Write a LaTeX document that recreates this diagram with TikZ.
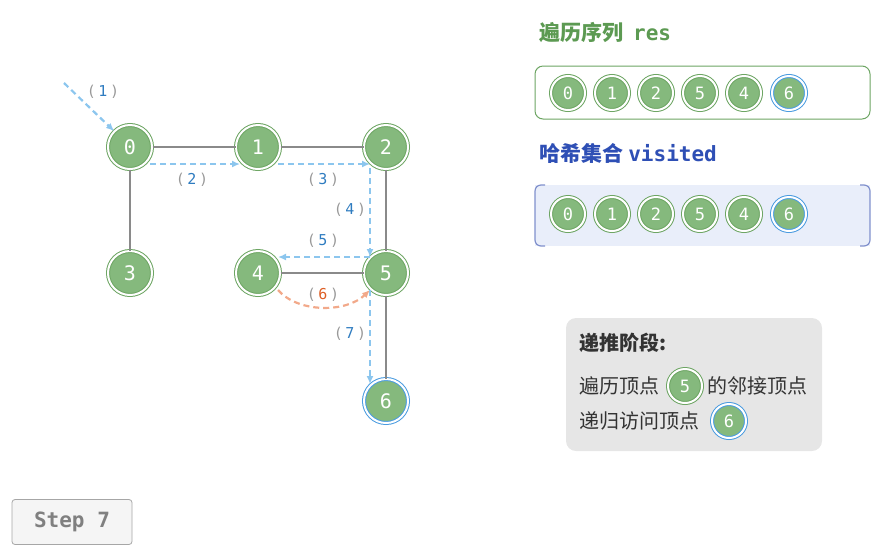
\documentclass[tikz,border=0pt]{standalone}
\usepackage{fontspec}
\setmainfont{Noto Sans CJK SC}
\setmonofont{DejaVu Sans Mono}
\usetikzlibrary{arrows.meta,calc}

\definecolor{vgreen}{HTML}{85B97D}
\definecolor{vring}{HTML}{6DA563}
\definecolor{vblue}{HTML}{4A9BE0}
\definecolor{dashblue}{HTML}{8CC6EE}
\definecolor{dashorange}{HTML}{F2A98A}
\definecolor{numblue}{HTML}{2F7CC0}
\definecolor{numorange}{HTML}{DD5F26}
\definecolor{titlegreen}{HTML}{5C9A52}
\definecolor{titleblue}{HTML}{2E4FB5}
\definecolor{linkgrey}{HTML}{8A8A8A}
\definecolor{setfill}{HTML}{E9EEFA}
\definecolor{setdraw}{HTML}{8090CC}
\definecolor{legendfill}{HTML}{E6E6E6}

\tikzset{
  vertex/.style={circle, inner sep=0pt, minimum size=44pt, fill=vgreen, draw=vring,
    double=white, double distance=2pt, line width=1pt, text=white,
    font=\ttfamily\fontsize{20}{20}\selectfont},
  current/.style={draw=vblue},
  mini/.style={minimum size=34pt, font=\ttfamily\fontsize{17}{17}\selectfont},
  link/.style={linkgrey, line width=2.6pt},
  walk/.style={dashblue, line width=2.2pt, dash pattern=on 6pt off 4pt,
    -{Latex[length=8pt,width=7pt]}},
  back/.style={walk, dashorange},
  stepno/.style={font=\ttfamily\fontsize{15}{15}\selectfont, text=gray!80},
  heading/.style={anchor=west, font=\bfseries\fontsize{21}{21}\selectfont},
  legendtext/.style={anchor=west, text=black!80, font=\fontsize{20}{20}\selectfont},
}
\newcommand{\walkno}[2][numblue]{(\,\textcolor{#1}{#2}\,)}

\begin{document}
\begin{tikzpicture}[x=1pt, y=-1pt]
  \useasboundingbox (0,0) rectangle (874,550);

  % ---------- graph ----------
  \node[vertex] (n0) at (130,147) {0};
  \node[vertex] (n1) at (258,147) {1};
  \node[vertex] (n2) at (386,147) {2};
  \node[vertex] (n3) at (130,273) {3};
  \node[vertex] (n4) at (258,273) {4};
  \node[vertex] (n5) at (386,273) {5};
  \node[vertex, current] (n6) at (386,401) {6};

  \draw[link] (n0) -- (n1);
  \draw[link] (n1) -- (n2);
  \draw[link] (n0) -- (n3);
  \draw[link] (n2) -- (n5);
  \draw[link] (n4) -- (n5);
  \draw[link] (n5) -- (n6);

  % ---------- traversal steps ----------
  \coordinate (start) at (64,83);
  \draw[walk] (start) -- (n0.135);
  \draw[walk] ($(n0)+(20,17)$) -- ($(n1)+(-18,17)$);
  \draw[walk] ($(n1)+(20,17)$) -- ($(n2)+(-16,17)$);
  \draw[walk] ($(n2)+(-16,21)$) -- ($(n5)+(-16,-16)$);
  \draw[walk] ($(n5)+(-16,-16)$) -- ($(n4)+(20,-16)$);
  \draw[back] ($(n4)+(20,17)$) .. controls ($(n4)+(40,40)$) and ($(n5)+(-40,40)$) .. ($(n5)+(-16,17)$);
  \draw[walk] ($(n5)+(-16,17)$) -- ($(n6)+(-16,-17)$);

  \node[stepno] (s1) at (103,92)  {\walkno{1}};
  \node[stepno] (s2) at (192,180) {\walkno{2}};
  \node[stepno] (s3) at (323,180) {\walkno{3}};
  \node[stepno] (s4) at (350,210) {\walkno{4}};
  \node[stepno] (s5) at (323,241) {\walkno{5}};
  \node[stepno] (s6) at (323,295) {\walkno[numorange]{6}};
  \node[stepno] (s7) at (350,334) {\walkno{7}};

  % ---------- result sequence ----------
  \node[heading, text=titlegreen] (restitle) at (536,33) {遍历序列\ \ \texttt{res}};
  \draw[rounded corners=8pt, draw=vring, line width=1pt, fill=white] (535,66) rectangle (870,119);
  \foreach \v [count=\i] in {0,1,2,5,4}
    \node[vertex, mini] (r\i) at (524+44*\i,93) {\v};
  \node[vertex, mini, current] (r6) at (789,93) {6};

  % ---------- visited set ----------
  \node[heading, text=titleblue] (settitle) at (536,153) {哈希集合 \texttt{visited}};
  \fill[setfill] (535,185) rectangle (870,246);
  \draw[setdraw, line width=1.2pt, rounded corners=6pt] (545,185) -- (535,185) -- (535,246) -- (545,246);
  \draw[setdraw, line width=1.2pt, rounded corners=6pt] (860,185) -- (870,185) -- (870,246) -- (860,246);
  \foreach \v [count=\i] in {0,1,2,5,4}
    \node[vertex, mini] (v\i) at (524+44*\i,214) {\v};
  \node[vertex, mini, current] (v6) at (789,214) {6};

  % ---------- legend ----------
  \fill[legendfill, rounded corners=10pt] (566,318) rectangle (822,451);
  \node[legendtext, font=\bfseries\fontsize{20}{20}\selectfont] (phase) at (576,343) {递推阶段:};
  \node[legendtext] (visittext) at (576,386) {遍历顶点};
  \node[vertex, mini] (lg5) at (685,386) {5};
  \node[legendtext] (adjtext) at (704,386) {的邻接顶点};
  \node[legendtext] (rectext) at (576,421) {递归访问顶点};
  \node[vertex, mini, current] (lg6) at (729,421) {6};

  % ---------- step button ----------
  \node[draw=black!35, fill=black!4, rounded corners=3pt, line width=0.8pt,
        minimum width=120pt, minimum height=45pt, text=black!50,
        font=\ttfamily\bfseries\fontsize{21}{21}\selectfont] (stepbtn) at (72,522) {Step 7};
\end{tikzpicture}
\end{document}
